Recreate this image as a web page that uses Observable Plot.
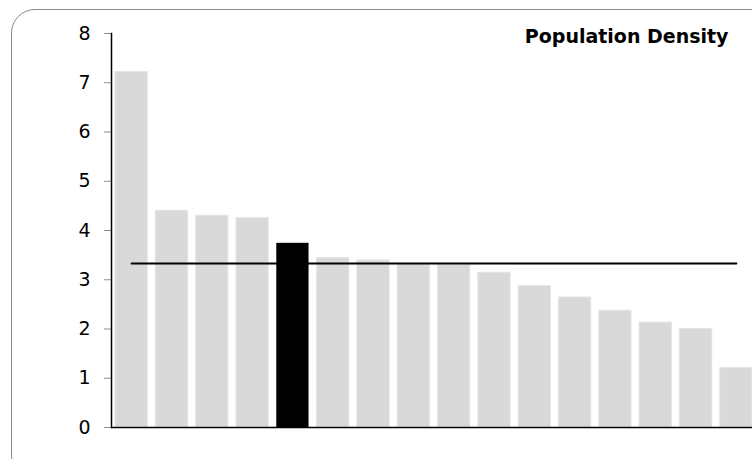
<!DOCTYPE html>
<html><head><meta charset="utf-8">
<script src="https://cdn.jsdelivr.net/npm/d3@7"></script>
<script src="https://cdn.jsdelivr.net/npm/@observablehq/plot@0.6"></script>
<style>
html,body{margin:0;padding:0;width:752px;height:459px;overflow:hidden;background:#fff;}
#wrap{position:relative;width:752px;height:459px;overflow:hidden;}
#border{position:absolute;left:11px;top:9px;width:772px;height:470px;border:1.5px solid #8a8a8a;border-radius:24px;box-sizing:border-box;}
#chart{position:absolute;left:0;top:0;}
</style></head><body>
<div id="wrap"><div id="border"></div><div id="chart"></div></div>
<script>
const title = "Population Density";
const categories = ["R1","R2","R3","R4","R5","R6","R7","R8","R9","R10","R11","R12","R13","R14","R15","R16"];
const values = [7.22, 4.40, 4.30, 4.25, 3.74, 3.44, 3.39, 3.32, 3.30, 3.14, 2.87, 2.64, 2.37, 2.13, 2.00, 1.21];
const highlighted = ["R5"];
const referenceValue = 3.33;
const yTicks = [0, 1, 2, 3, 4, 5, 6, 7, 8];

const data = categories.map((c, i) => ({category: c, value: values[i], hi: highlighted.includes(c)}));
const refLine = categories.map(c => ({category: c, value: referenceValue}));

const chart = Plot.plot({
  width: 752,
  height: 459,
  marginLeft: 111,
  marginTop: 33,
  marginBottom: 32,
  marginRight: 0,
  style: {fontFamily: "DejaVu Sans", background: "transparent", overflow: "visible"},
  x: {domain: categories, range: [111, 756], paddingInner: 0.2, paddingOuter: 0.1, round: false, axis: null},
  y: {domain: [0, 8], axis: null},
  marks: [
    Plot.barY(data.filter(d => !d.hi), {x: "category", y: "value", fill: "#d9d9d9", stroke: "#e4e4e4", strokeWidth: 1}),
    Plot.barY(data.filter(d => d.hi), {x: "category", y: "value", fill: "black"}),
    Plot.axisY({ticks: yTicks, tickSize: 7, tickPadding: 14, fontSize: 19, stroke: "#8c8c8c", fill: "black", label: null, tickFormat: d3.format("d")}),
    Plot.frame({anchor: "left", stroke: "black", strokeWidth: 1.5}),
    Plot.ruleY([0], {stroke: "black", strokeWidth: 1.5}),
    Plot.line(refLine, {x: "category", y: "value", stroke: "black", strokeWidth: 2}),
    Plot.text([title], {text: d => d, frameAnchor: "top-right", textAnchor: "end", lineAnchor: "top", dx: -24, dy: -4, fontSize: 19, fontWeight: "bold", fill: "black"})
  ]
});
document.getElementById("chart").appendChild(chart);
</script>
</body></html>
